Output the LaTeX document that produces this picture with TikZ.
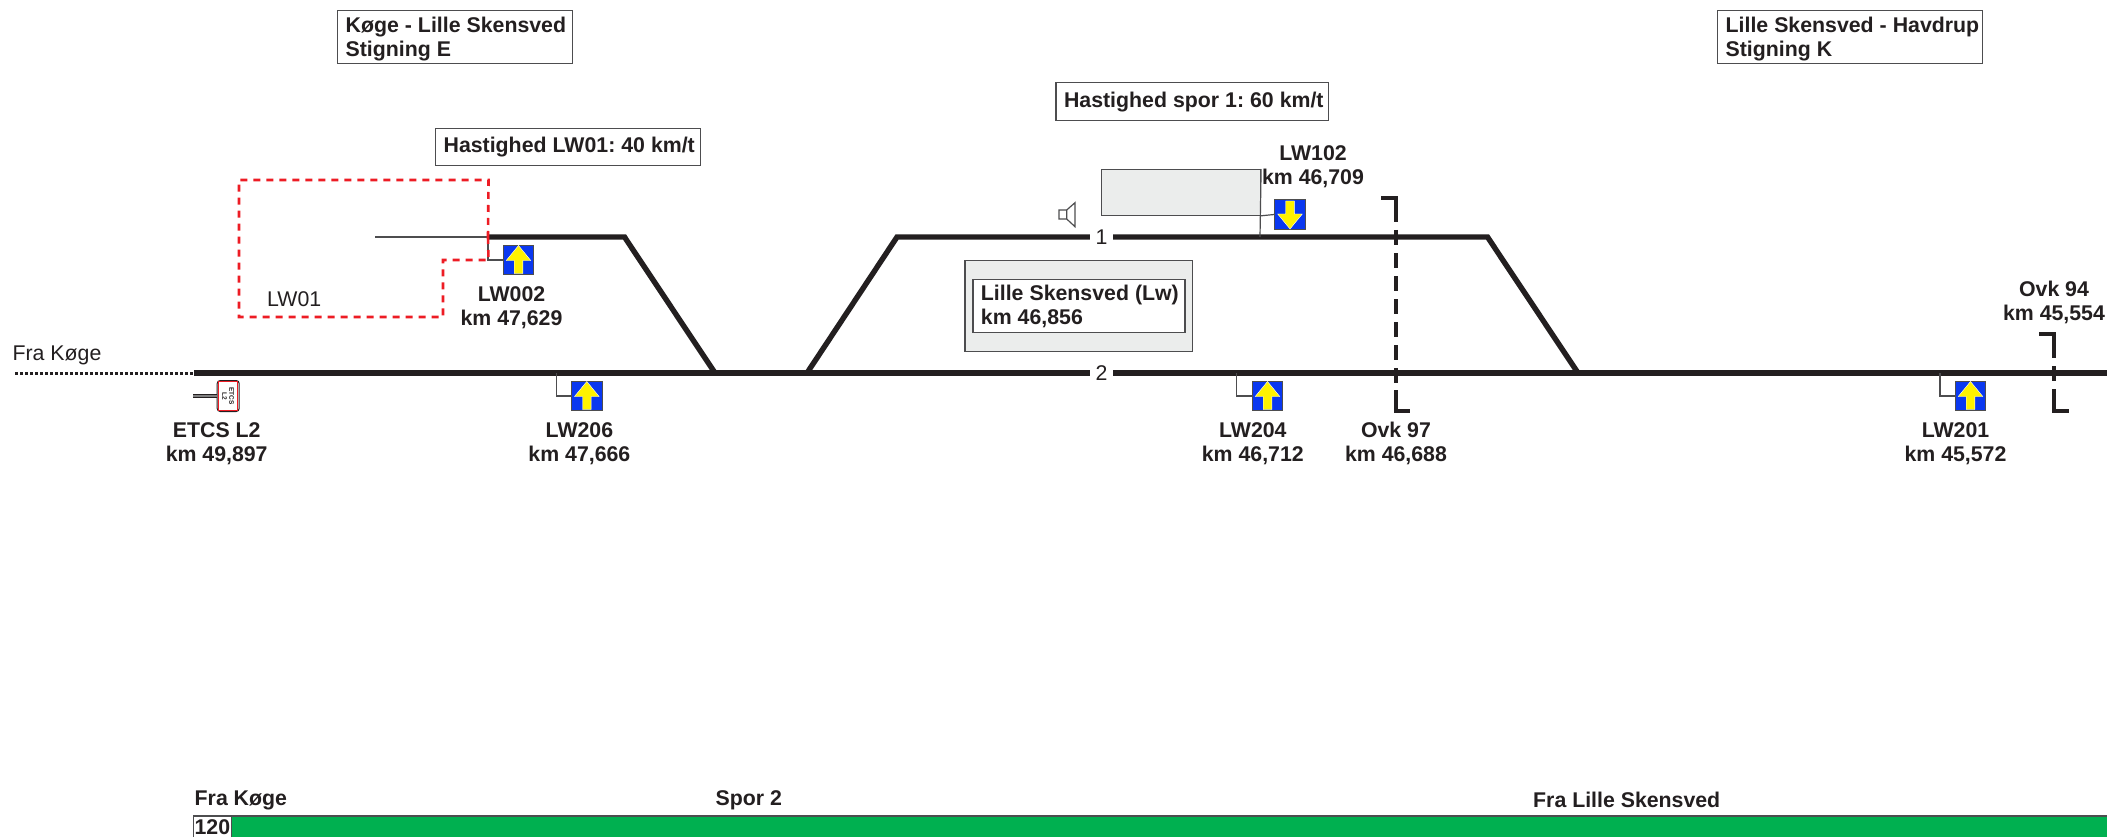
\documentclass[tikz,border=0pt]{standalone}
\usepackage{fontspec}
\setmainfont{Liberation Sans}
\definecolor{ink}{HTML}{231F20}
\definecolor{edge}{HTML}{4D4D4F}
\definecolor{sigblue}{HTML}{0A38F0}
\definecolor{rail}{HTML}{231F20}
\definecolor{redd}{HTML}{ED1C24}
\definecolor{panel}{HTML}{EBEDEC}
\definecolor{barg}{HTML}{00B050}
\newcommand{\vst}[2]{\rule[-#2pt]{0pt}{\dimexpr #1pt+#2pt\relax}}
\newcommand{\wln}[2]{\makebox[#1pt][l]{\spaceskip=6pt\relax\xspaceskip=6pt\relax #2}}
\tikzset{
  x=1pt,y=-1pt,
  track/.style={draw=rail,line width=5.4pt,line join=miter},
  thin line/.style={draw=edge,line width=1.2pt},
  lblbox/.style={draw=edge,line width=1.3pt,fill=white,anchor=north west,inner xsep=8pt,inner ysep=0pt,align=left,text=ink,font=\fontsize{21.3}{24}\selectfont\bfseries},
  blab/.style={anchor=base,align=center,inner sep=0pt,text=ink,font=\fontsize{21.3}{24}\selectfont\bfseries},
  rlab/.style={anchor=base west,inner sep=0pt,text=ink,font=\fontsize{21.3}{24}\selectfont},
  blabw/.style={anchor=base west,inner sep=0pt,text=ink,font=\fontsize{21.3}{24}\selectfont\bfseries},
  tracknum/.style={inner sep=0pt,minimum width=23pt,minimum height=16pt,text=ink,font=\fontsize{21.3}{24}\selectfont},
  sigbox/.style={draw=edge,line width=1pt,fill=sigblue,minimum width=30.5pt,minimum height=29.5pt,inner sep=0pt},
  panelbox/.style={draw=edge,line width=1.1pt,fill=panel,anchor=north west,inner sep=0pt},
  redline/.style={draw=redd,line width=2.6pt,dash pattern=on 7pt off 6pt},
  ovk/.style={draw=rail,line width=4pt,line join=miter},
}
\newcommand{\sigup}[3]{%
  \node[sigbox] (#1) at (#2,#3) {};
  \fill[yellow,draw=white,line width=.4pt] (#1.center) ++(0,-14.5) -- ++(12.3,15) -- ++(-8,0) -- ++(0,13) -- ++(-8.6,0) -- ++(0,-13) -- ++(-8,0) -- cycle;
}
\newcommand{\sigdown}[3]{%
  \node[sigbox] (#1) at (#2,#3) {};
  \fill[yellow,draw=white,line width=.4pt] (#1.center) ++(0,14.5) -- ++(12.3,-15) -- ++(-8,0) -- ++(0,-13) -- ++(-8.6,0) -- ++(0,13) -- ++(-8,0) -- cycle;
}
\begin{document}
\begin{tikzpicture}
\useasboundingbox (0,0) rectangle (2107,837);
\fill[white] (0,0) rectangle (2107,837);

% text boxes
\node[lblbox,text width=219pt] (kl) at (337,10) {\vst{22}{7}\wln{219}{Køge - Lille Skensved}\\\wln{219}{Stigning E}\vst{0}{7}};
\node[lblbox,text width=249pt] (lh) at (1717,10) {\vst{22}{7}\wln{249}{Lille Skensved - Havdrup}\\\wln{249}{Stigning K}\vst{0}{7}};
\node[lblbox,text width=249pt] (v1) at (435,128) {\vst{24}{13}\wln{249}{Hastighed LW01: 40 km/t}};
\node[lblbox,text width=256.6pt] (v2) at (1055.4,82) {\vst{25}{13}\wln{256.6}{Hastighed spor 1: 60 km/t}};

% station panels
\node[panelbox,minimum width=159.5pt,minimum height=45.7pt] (pl) at (1100.5,169) {};
\node[panelbox,minimum width=227.2pt,minimum height=90.7pt] (st) at (964.4,260) {};
\node[lblbox,text width=196pt,line width=1.1pt] (stn) at (972.4,278.7) {\vst{21.3}{8}\wln{196}{Lille Skensved (Lw)}\\\wln{196}{km 46,856}\vst{0}{8}};

% anchor points on the tracks
\coordinate (d0) at (15,373);
\coordinate (t2a) at (194,373);
\coordinate (t2m) at (715,373);
\coordinate (t2n) at (807,373);
\coordinate (t2r) at (1578,373);
\coordinate (t2e) at (2107,373);
\coordinate (w1) at (375,237);
\coordinate (t0a) at (488,237);
\coordinate (t0b) at (624.5,237);
\coordinate (t1a) at (897,237);
\coordinate (t1b) at (1487.5,237);
\node[tracknum] (n1) at (1101.5,237) {1};
\node[tracknum] (n2) at (1101.5,373) {2};

% LW01 siding outline
\coordinate (r1) at (488.5,260);
\coordinate (r2) at (443,260);
\coordinate (r3) at (443,317);
\coordinate (r4) at (239,317);
\coordinate (r5) at (239,180);
\coordinate (r6) at (488.5,180);
\draw[thin line] (w1) -- (t0a);
\draw[dash pattern=on 3pt off 2pt,draw=rail,line width=3pt] (d0) -- (t2a);

% tracks
\draw[track] (t2a) -- (n2);
\draw[track] (n2) -- (t2e);
\draw[track] (t0a) -- (t0b) -- (t2m);
\draw[track] (t2n) -- (t1a) -- (n1);
\draw[track] (n1) -- (t1b) -- (t2r);

% signals
\sigup{s002}{518.5}{260}
\sigup{s206}{586.8}{396}
\sigup{s204}{1267.5}{396}
\sigup{s201}{1970.5}{396}
\sigdown{s102}{1290}{214.5}
\coordinate (c002) at (488,237);
\coordinate (c206) at (556.5,373);
\coordinate (c204) at (1236.7,373);
\coordinate (c201) at (1940,373);
\coordinate (c102) at (1260,237);
\draw[thin line] (c002) |- (s002.west);
\draw[thin line] (c206) |- (s206.west);
\draw[thin line] (c204) |- (s204.west);
\draw[thin line] (c201) |- (s201.west);
\draw[thin line] (pl.north east) -- (c102);
\draw[thin line] (pl.south east) -- (s102.west);
\draw[redline] (t0a) -- (r1) -- (r2) -- (r3) -- (r4) -- (r5) -- (r6) -- (t0a);

% speaker
\coordinate (sp1) at (1059,210);
\coordinate (sp2) at (1066.7,210);
\coordinate (sp3) at (1075,202.7);
\coordinate (sp4) at (1075,226.7);
\coordinate (sp5) at (1066.7,219);
\coordinate (sp6) at (1059,219);
\draw[thin line] (sp1) -- (sp2) -- (sp3) -- (sp4) -- (sp5) -- (sp6) -- cycle (sp2) -- (sp5);

% ETCS board
\coordinate (es) at (193,396);
\node[draw=ink,line width=1pt,fill=white,rounded corners=3pt,minimum width=22pt,minimum height=31pt,inner sep=0pt] (etcs) at (228.2,396) {};
\node[draw=redd,line width=1.5pt,minimum width=29pt,minimum height=19pt,inner sep=0pt,rotate=-90,align=center,text=ink,font=\fontsize{6.5}{7}\selectfont\bfseries] (etcsin) at (228.2,396) {ETCS\\L2};
\draw[draw=ink,line width=3.4pt] (es) -- (etcs.west);
\draw[draw=gray,line width=1.6pt] (es) -- (etcs.west);

% overpass marks
\coordinate (o1a) at (1381,198);\coordinate (o1b) at (1395.6,198);\coordinate (o1c) at (1395.6,222);
\coordinate (o1d) at (1395.6,230);\coordinate (o1e) at (1395.6,383);
\coordinate (o1f) at (1395.6,390);\coordinate (o1g) at (1395.6,411);\coordinate (o1h) at (1410,411);
\draw[ovk] (o1a) -- (o1b) -- (o1c);
\draw[ovk,dash pattern=on 15pt off 8pt] (o1d) -- (o1e);
\draw[ovk] (o1f) -- (o1g) -- (o1h);
\coordinate (o2a) at (2039,334.3);\coordinate (o2b) at (2054,334.3);\coordinate (o2c) at (2054,358);
\coordinate (o2d) at (2054,366);\coordinate (o2e) at (2054,381);
\coordinate (o2f) at (2054,389);\coordinate (o2g) at (2054,411);\coordinate (o2h) at (2068.5,411);
\draw[ovk] (o2a) -- (o2b) -- (o2c);
\draw[ovk] (o2d) -- (o2e);
\draw[ovk] (o2f) -- (o2g) -- (o2h);

% labels
\node[rlab] (fk) at (12.4,360) {Fra Køge};
\node[rlab] (lw01) at (267,306) {LW01};
\node[blab] (l002) at (511.5,325.7) {LW002\\km 47,629};
\node[blab] (letcs) at (216.7,461.7) {ETCS L2\\km 49,897};
\node[blab] (l206) at (579.4,461.7) {LW206\\km 47,666};
\node[blab] (l102) at (1313,185) {LW102\\km 46,709};
\node[blab] (l204) at (1252.8,461.7) {LW204\\km 46,712};
\node[blab] (l97) at (1396,461.7) {Ovk 97\\km 46,688};
\node[blab] (l201) at (1955.5,461.7) {LW201\\km 45,572};
\node[blab] (l94) at (2054,320.7) {Ovk 94\\km 45,554};

% speed band
\node[blabw] (b1) at (194.5,805.7) {Fra Køge};
\node[blabw] (b2) at (715.5,805.7) {Spor 2};
\node[blabw] (b3) at (1533,807.7) {Fra Lille Skensved};
\fill[barg] (230.7,816) rectangle (2107,837);
\draw[draw=edge,line width=2pt] (193,816) -- (2107,816);
\node[draw=edge,line width=1pt,fill=white,anchor=north west,minimum width=37.7pt,minimum height=22pt,inner sep=0pt,text=ink,font=\fontsize{21.3}{24}\selectfont\bfseries] (sp) at (193,816) {\raisebox{-1pt}{120}};
\end{tikzpicture}
\end{document}
